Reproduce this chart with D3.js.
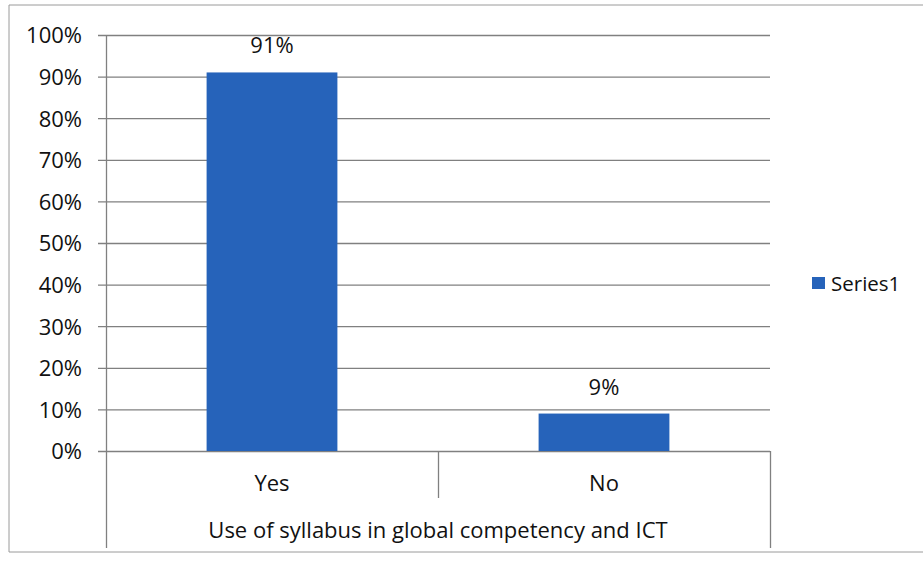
<!DOCTYPE html>
<html><head><meta charset="utf-8">
<script src="https://cdn.jsdelivr.net/npm/d3@7"></script>
<style>body{margin:0;background:#fff}svg{display:block}text{font-family:"Open Sans",sans-serif;fill:#111}</style>
</head><body>
<svg id="c" width="923" height="561"></svg>
<script>
const categories = ["Yes", "No"];
const values = [0.91, 0.09];
const valueLabels = ["91%", "9%"];
const yTicks = [0, 0.1, 0.2, 0.3, 0.4, 0.5, 0.6, 0.7, 0.8, 0.9, 1.0];
const seriesName = "Series1";
const axisTitle = "Use of syllabus in global competency and ICT";

const svg = d3.select("#c");
const L = 106, R = 770, T = 35, B = 451;
const color = "#2663ba", grid = "#808080";
const FS = 22;

// outer border
svg.append("path").attr("d","M9,552 L9,5 L923,5 M9,552 L923,552").attr("fill","none").attr("stroke","#9a9a9a").attr("stroke-width",1);

const y = d3.scaleLinear().domain([0,1]).range([B,T]);
const x = d3.scaleBand().domain(categories).range([L,R]);
const barW = x.bandwidth()*0.394;

// gridlines + ticks
svg.append("g").selectAll("line").data(yTicks).join("line")
  .attr("x1",L-8).attr("x2",R).attr("y1",d=>y(d)+0.5).attr("y2",d=>y(d)+0.5)
  .attr("stroke",grid).attr("stroke-width",1.3);

const yAxis = d3.axisLeft(y).tickValues(yTicks).tickFormat(d3.format(".0%")).tickSize(0).tickPadding(24);
const ga = svg.append("g").attr("transform",`translate(${L},0)`).call(yAxis);
ga.select(".domain").remove();
ga.selectAll("text").attr("font-size",FS).attr("font-family","'Open Sans',sans-serif").attr("fill","#111").attr("dy","0.36em");

// bars
svg.append("g").selectAll("rect").data(categories).join("rect")
  .attr("x",(d)=>x(d)+x.bandwidth()/2-barW/2).attr("width",barW)
  .attr("y",(d,i)=>y(values[i])).attr("height",(d,i)=>B-y(values[i]))
  .attr("fill",color);

// value labels
svg.append("g").selectAll("text").data(categories).join("text")
  .attr("x",d=>x(d)+x.bandwidth()/2).attr("y",(d,i)=>y(values[i])-19)
  .attr("text-anchor","middle").attr("font-size",FS).text((d,i)=>valueLabels[i]);

// y axis line (extends to bottom)
svg.append("line").attr("x1",L+0.5).attr("x2",L+0.5).attr("y1",T).attr("y2",548).attr("stroke",grid).attr("stroke-width",1.3);
// category separators
svg.append("line").attr("x1",x("No")+0.5).attr("x2",x("No")+0.5).attr("y1",B).attr("y2",498).attr("stroke",grid).attr("stroke-width",1.3);
svg.append("line").attr("x1",R+0.5).attr("x2",R+0.5).attr("y1",B).attr("y2",548).attr("stroke",grid).attr("stroke-width",1.3);

// category labels
svg.append("g").selectAll("text").data(categories).join("text")
  .attr("x",d=>x(d)+x.bandwidth()/2).attr("y",491)
  .attr("text-anchor","middle").attr("font-size",FS).text(d=>d);

// axis title
svg.append("text").attr("x",438).attr("y",538).attr("text-anchor","middle").attr("font-size",FS).text(axisTitle);

// legend
svg.append("rect").attr("x",812).attr("y",277).attr("width",13).attr("height",12).attr("fill",color);
svg.append("text").attr("x",831).attr("y",291).attr("font-size",20.5).text(seriesName);
</script>
</body></html>
